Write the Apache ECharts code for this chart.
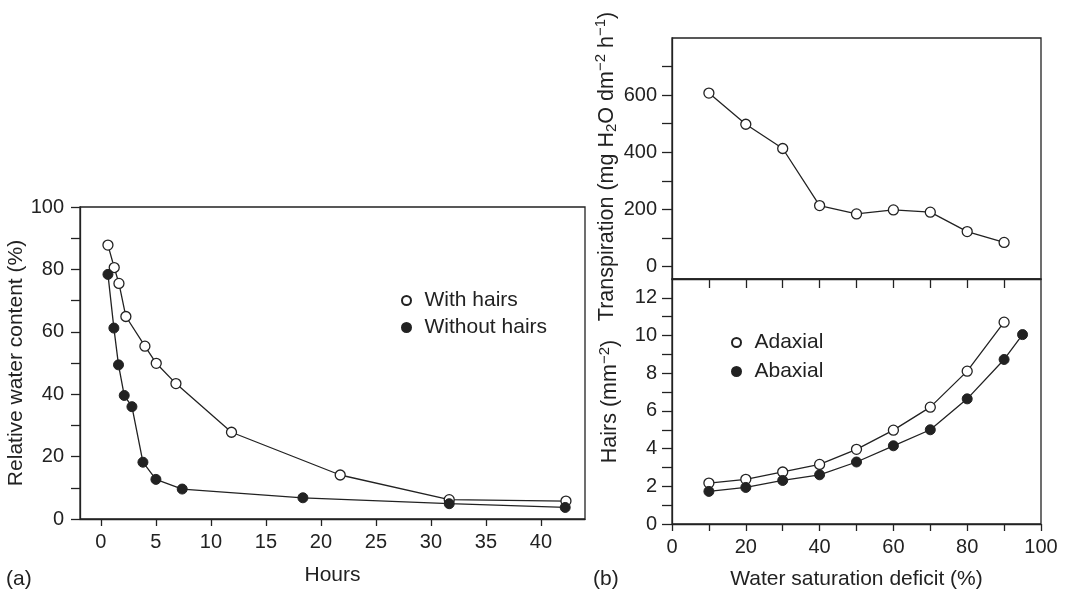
<!DOCTYPE html>
<html>
<head>
<meta charset="utf-8">
<title>Leaf hairs, water loss and transpiration</title>
<script src="https://cdn.jsdelivr.net/npm/echarts@6/dist/echarts.min.js"></script>
<style>
  html, body { margin: 0; padding: 0; background: #fff; }
  #chart { width: 1066px; height: 591px; }
</style>
</head>
<body>
<div id="chart"></div>
<script>
// (a) Relative water content of leaves over time
const hoursWith = [0.64, 1.21, 1.64, 2.27, 4.0, 5.03, 6.82, 11.87, 21.75, 31.66, 42.27];
const rwcWith = [87.8, 80.6, 75.5, 64.9, 55.4, 49.9, 43.4, 27.8, 14.1, 6.2, 5.75];
const hoursWithout = [0.64, 1.18, 1.6, 2.12, 2.82, 3.82, 5.0, 7.39, 18.36, 31.66, 42.2];
const rwcWithout = [78.4, 61.2, 49.4, 39.6, 36.0, 18.2, 12.7, 9.6, 6.8, 4.9, 3.7];

// (b) top: transpiration against water saturation deficit
const deficitTransp = [10, 20, 30, 40, 50, 60, 70, 80, 90];
const transpiration = [607, 498, 413, 213, 184, 198, 190, 122, 84];

// (b) bottom: hair density against water saturation deficit
const deficitAdaxial = [10, 20, 30, 40, 50, 60, 70, 80, 90];
const adaxial = [2.17, 2.37, 2.76, 3.16, 3.96, 4.98, 6.2, 8.11, 10.71];
const deficitAbaxial = [10, 20, 30, 40, 50, 60, 70, 80, 90, 95];
const abaxial = [1.73, 1.94, 2.31, 2.61, 3.29, 4.15, 5.0, 6.64, 8.73, 10.05];

// Tick positions and labels
const hoursTicks = [0, 5, 10, 15, 20, 25, 30, 35, 40];
const rwcTicks = [0, 10, 20, 30, 40, 50, 60, 70, 80, 90, 100];
const rwcLabels = [0, 20, 40, 60, 80, 100];
const transpTicks = [0, 100, 200, 300, 400, 500, 600, 700];
const transpLabels = [0, 200, 400, 600];
const deficitTicks = [0, 10, 20, 30, 40, 50, 60, 70, 80, 90, 100];
const deficitLabels = [0, 20, 40, 60, 80, 100];
const deficitInnerTicks = [10, 20, 30, 40, 50, 60, 70, 80, 90];
const hairTicks = [0, 1, 2, 3, 4, 5, 6, 7, 8, 9, 10, 11, 12];
const hairLabels = [0, 2, 4, 6, 8, 10, 12];

const ink = '#222';
const FONT = '"Liberation Sans", Arial, Helvetica, sans-serif';
const tickFont = { fontSize: 20, color: ink, fontFamily: FONT };
const nameFont = { fontSize: 21, color: ink, fontFamily: FONT };
const lineSty = { color: ink, width: 1.3 };

const zip = (xs, ys) => xs.map((x, i) => [x, ys[i]]);

const openStyle = { color: '#fff', borderColor: ink, borderWidth: 1.3 };
const filledStyle = { color: ink, borderColor: ink, borderWidth: 1 };

function lineSeries(name, xIdx, yIdx, data, style) {
  return {
    name, type: 'line', xAxisIndex: xIdx, yAxisIndex: yIdx, data,
    symbol: 'circle', symbolSize: 10, showSymbol: true,
    lineStyle: { color: ink, width: 1.3 },
    itemStyle: style,
    emphasis: { disabled: true },
    animation: false, z: 3
  };
}

const richName = {
  a: { fontSize: 21.5, color: ink, fontFamily: FONT, lineHeight: 26, verticalAlign: 'middle' },
  sub: { fontSize: 15, color: ink, fontFamily: FONT, lineHeight: 14, verticalAlign: 'bottom' },
  sup: { fontSize: 15, color: ink, fontFamily: FONT, lineHeight: 14, verticalAlign: 'top' }
};

const chart = echarts.init(document.getElementById('chart'), null, { renderer: 'canvas' });

chart.setOption({
  animation: false,
  backgroundColor: '#fff',
  textStyle: { fontFamily: FONT },
  grid: [
    { left: 80, top: 207, width: 505, height: 317, show: true, borderColor: ink, borderWidth: 1.3, backgroundColor: 'transparent' },
    { left: 672, top: 38, width: 369, height: 241, show: true, borderColor: ink, borderWidth: 1.3, backgroundColor: 'transparent' },
    { left: 672, top: 279, width: 369, height: 246, show: true, borderColor: ink, borderWidth: 1.3, backgroundColor: 'transparent' }
  ],
  xAxis: [
    {
      gridIndex: 0, type: 'value', min: -1.9, max: 44,
      name: 'Hours', nameLocation: 'middle', nameGap: 46, nameTextStyle: nameFont,
      axisLine: { show: true, onZero: false, lineStyle: lineSty },
      axisTick: { show: true, length: 7, lineStyle: lineSty, customValues: hoursTicks },
      axisLabel: { margin: 13, customValues: hoursTicks, ...tickFont },
      splitLine: { show: false }
    },
    {
      gridIndex: 1, type: 'value', min: 0, max: 100, show: false
    },
    {
      gridIndex: 2, type: 'value', min: 0, max: 100, position: 'bottom',
      name: 'Water saturation deficit (%)', nameLocation: 'middle', nameGap: 45, nameTextStyle: nameFont,
      axisLine: { show: true, onZero: false, lineStyle: lineSty },
      axisTick: { show: true, length: 7, lineStyle: lineSty, customValues: deficitTicks },
      axisLabel: { margin: 13, customValues: deficitLabels, ...tickFont },
      splitLine: { show: false }
    },
    {
      gridIndex: 2, type: 'value', min: 0, max: 100, position: 'top',
      axisLine: { show: true, onZero: false, lineStyle: lineSty },
      axisTick: { show: true, inside: true, length: 9, lineStyle: lineSty, customValues: deficitInnerTicks },
      axisLabel: { show: false },
      splitLine: { show: false }
    }
  ],
  yAxis: [
    {
      gridIndex: 0, type: 'value', min: 0, max: 100,
      name: 'Relative water content (%)', nameLocation: 'middle', nameGap: 47, nameTextStyle: nameFont,
      axisLine: { show: true, onZero: false, lineStyle: lineSty },
      axisTick: { show: true, length: 9, lineStyle: lineSty, customValues: rwcTicks },
      axisLabel: { margin: 16, customValues: rwcLabels, ...tickFont },
      splitLine: { show: false }
    },
    {
      gridIndex: 1, type: 'value', min: -44, max: 800,
      name: '{a|Transpiration (mg H}{sub|2}{a|O dm}{sup|\u22122}{a| h}{sup|\u22121}{a|)}',
      nameLocation: 'middle', nameGap: 50,
      nameTextStyle: { rich: richName, padding: [0, 16, 0, 0] },
      axisLine: { show: true, onZero: false, lineStyle: lineSty },
      axisTick: { show: true, length: 10, lineStyle: lineSty, customValues: transpTicks },
      axisLabel: { margin: 15, customValues: transpLabels, ...tickFont },
      splitLine: { show: false }
    },
    {
      gridIndex: 2, type: 'value', min: 0, max: 13,
      name: '{a|Hairs (mm}{sup|\u22122}{a|)}',
      nameLocation: 'middle', nameGap: 49,
      nameTextStyle: { rich: richName },
      axisLine: { show: true, onZero: false, lineStyle: lineSty },
      axisTick: { show: true, length: 10, lineStyle: lineSty, customValues: hairTicks },
      axisLabel: { margin: 15, customValues: hairLabels, ...tickFont },
      splitLine: { show: false }
    }
  ],
  legend: [
    {
      data: ['With hairs', 'Without hairs'],
      orient: 'vertical', left: 396, top: 285,
      icon: 'circle', itemWidth: 26, itemHeight: 9, itemGap: 6,
      textStyle: nameFont, selectedMode: false
    },
    {
      data: ['Adaxial', 'Abaxial'],
      orient: 'vertical', left: 726, top: 327,
      icon: 'circle', itemWidth: 26, itemHeight: 9, itemGap: 8,
      textStyle: nameFont, selectedMode: false
    }
  ],
  graphic: [
    { type: 'text', left: 6, top: 569, style: { text: '(a)', fontSize: 21, fill: ink, fontFamily: FONT } },
    { type: 'text', left: 593, top: 569, style: { text: '(b)', fontSize: 21, fill: ink, fontFamily: FONT } }
  ],
  series: [
    lineSeries('With hairs', 0, 0, zip(hoursWith, rwcWith), openStyle),
    lineSeries('Without hairs', 0, 0, zip(hoursWithout, rwcWithout), filledStyle),
    lineSeries('Transpiration', 1, 1, zip(deficitTransp, transpiration), openStyle),
    lineSeries('Adaxial', 2, 2, zip(deficitAdaxial, adaxial), openStyle),
    lineSeries('Abaxial', 2, 2, zip(deficitAbaxial, abaxial), filledStyle)
  ]
});
</script>
</body>
</html>
